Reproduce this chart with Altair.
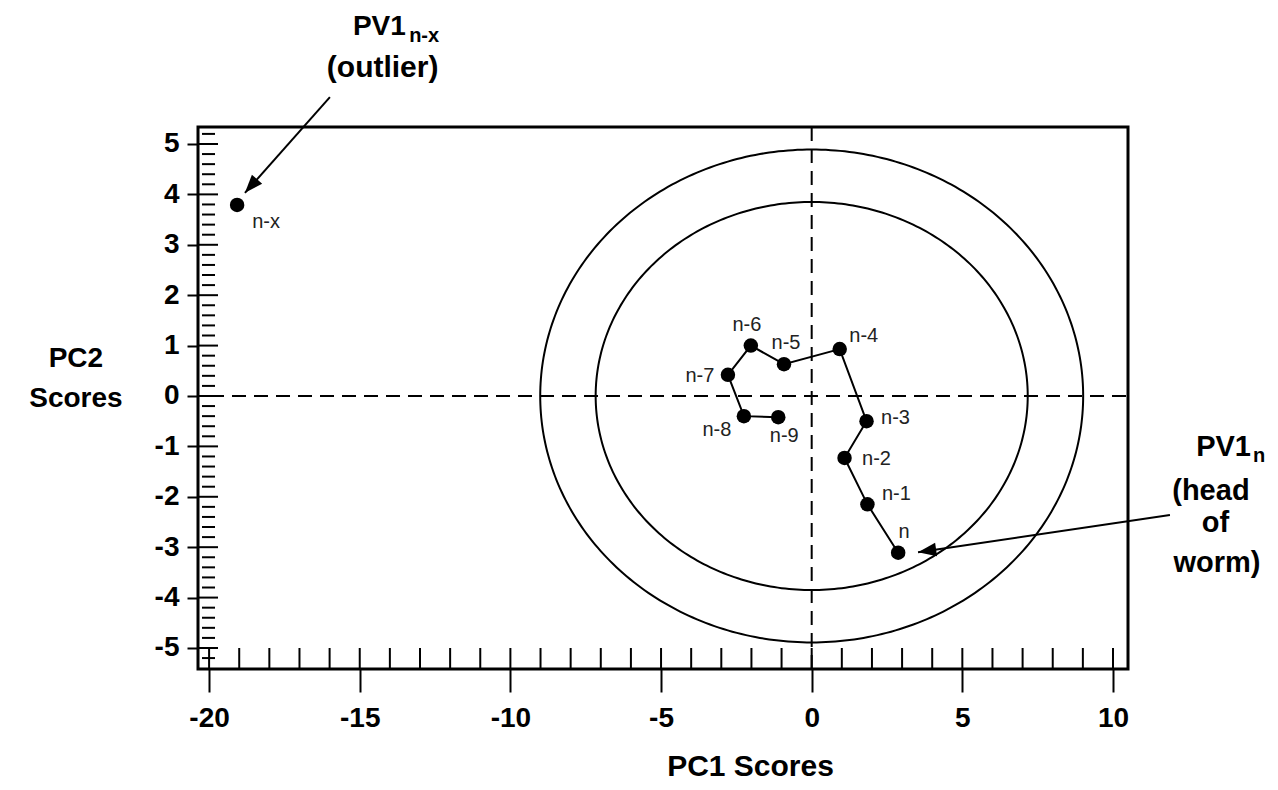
import altair as alt
import pandas as pd
import numpy as np

# ---------------- data ----------------
point_labels = ["n-9", "n-8", "n-7", "n-6", "n-5", "n-4", "n-3", "n-2", "n-1", "n"]
pc1_scores = [-1.11, -2.25, -2.78, -2.02, -0.92, 0.93, 1.82, 1.09, 1.85, 2.87]
pc2_scores = [-0.42, -0.40, 0.42, 1.00, 0.63, 0.93, -0.50, -1.23, -2.15, -3.11]

outlier_label = ["n-x"]
outlier_pc1 = [-19.07]
outlier_pc2 = [3.79]

ellipse_names = ["outer", "inner"]
ellipse_pc1_radius = [9.01, 7.17]
ellipse_pc2_radius = [4.89, 3.85]

x_tick_values = [-20, -15, -10, -5, 0, 5, 10]
y_tick_values = [-5, -4, -3, -2, -1, 0, 1, 2, 3, 4, 5]
x_minor_ticks = list(range(-20, 11))
y_minor_ticks = [round(-5.2 + 0.2 * i, 1) for i in range(53)]
y_minor_ticks = [v for v in y_minor_ticks if abs(v - round(v)) > 1e-9]

# ---------------- styles ----------------
FONT = "Liberation Sans, Arial, sans-serif"
BOLD = 28
W, H = 930, 542
X_DOMAIN = [-20.368, 10.498]
Y_DOMAIN = [-5.417, 5.337]

label_offsets = {  # pixel offsets of point labels (dx, dy)
    "n-9": (6, 19), "n-8": (-27, 14), "n-7": (-28, 1), "n-6": (-4, -21),
    "n-5": (2, -21), "n-4": (24, -13), "n-3": (29, -3), "n-2": (32, 1),
    "n-1": (29, -10), "n": (6, -21), "n-x": (29, 17),
}

xs = alt.Scale(domain=X_DOMAIN, nice=False, zero=False)
ys = alt.Scale(domain=Y_DOMAIN, nice=False, zero=False)

x_axis = alt.Axis(
    values=x_tick_values, tickSize=23, tickWidth=2, tickColor="black",
    domain=False, grid=False, labelExpr="'' + datum.value",
    labelFont=FONT, labelFontSize=BOLD, labelFontWeight="bold", labelColor="black",
    labelPadding=12, labelFlush=False, labelOverlap=False,
    title="PC1 Scores", titleFont=FONT, titleFontSize=30, titleFontWeight="bold",
    titleColor="black", titleAlign="center", titleBaseline="alphabetic",
    titleX=552, titleY=106, titleAnchor="start",
)
y_axis = alt.Axis(
    values=y_tick_values, tickSize=11, tickWidth=2, tickColor="black",
    domain=False, grid=False, labelExpr="'' + datum.value",
    labelFont=FONT, labelFontSize=BOLD, labelFontWeight="bold", labelColor="black",
    labelPadding=8, labelFlush=False, labelOverlap=False, title=None,
)

X = lambda f="x": alt.X(f"{f}:Q", scale=xs, axis=x_axis)
Y = lambda f="y": alt.Y(f"{f}:Q", scale=ys, axis=y_axis)

# ---------------- tables ----------------
worm = pd.DataFrame({"label": point_labels, "x": pc1_scores, "y": pc2_scores,
                     "order": list(range(len(point_labels)))})
outlier = pd.DataFrame({"label": outlier_label, "x": outlier_pc1, "y": outlier_pc2})
points = pd.concat([worm[["label", "x", "y"]], outlier], ignore_index=True)

rows = []
t = np.linspace(0, 2 * np.pi, 361)
for name, a, b in zip(ellipse_names, ellipse_pc1_radius, ellipse_pc2_radius):
    for i, tt in enumerate(t):
        rows.append({"name": name, "x": a * np.cos(tt), "y": b * np.sin(tt), "order": i})
ellipses = pd.DataFrame(rows)

# ---------------- layers ----------------
x_inner = alt.Chart(pd.DataFrame({"x": x_minor_ticks})).mark_rule(
    color="black", strokeWidth=2).encode(x=X(), y=alt.value(H - 21), y2=alt.value(H))
y_major_inner = alt.Chart(pd.DataFrame({"y": y_tick_values})).mark_rule(
    color="black", strokeWidth=2).encode(y=Y(), x=alt.value(0), x2=alt.value(20))
y_minor_inner = alt.Chart(pd.DataFrame({"y": y_minor_ticks})).mark_rule(
    color="black", strokeWidth=2).encode(y=Y(), x=alt.value(4), x2=alt.value(17))

vline = alt.Chart(pd.DataFrame({"x": [0.0]})).mark_rule(
    color="black", strokeWidth=2, strokeDash=[14, 8]).encode(x=X())
hline = alt.Chart(pd.DataFrame({"y": [0.0]})).mark_rule(
    color="black", strokeWidth=2, strokeDash=[14, 8], strokeDashOffset=4).encode(
    y=Y(), x=alt.value(16), x2=alt.value(W))

ell = alt.Chart(ellipses).mark_line(color="black", strokeWidth=2).encode(
    x=X(), y=Y(), detail="name:N", order="order:Q")

path = alt.Chart(worm).mark_line(color="black", strokeWidth=2).encode(
    x=X(), y=Y(), order="order:Q")
dots = alt.Chart(points).mark_circle(size=210, color="black", opacity=1).encode(x=X(), y=Y())

label_layers = []
for lab, (dx, dy) in label_offsets.items():
    label_layers.append(
        alt.Chart(points[points["label"] == lab]).mark_text(
            dx=dx, dy=dy, align="center", baseline="middle", font=FONT,
            fontSize=20, color="#222").encode(x=X(), y=Y(), text="label:N")
    )

# arrows (annotation geometry, in data units)
arrows = pd.DataFrame({
    "x": [-15.99, 11.89], "y": [5.93, -2.36],
    "x2": [-18.81, 3.53], "y2": [4.03, -3.10],
    "angle": [221.5, 261.6],
})
arrow_lines = alt.Chart(arrows).mark_rule(color="black", strokeWidth=2).encode(
    x=X(), y=Y(), x2="x2:Q", y2="y2:Q")
arrow_heads = alt.Chart(arrows).mark_point(
    shape="M0,0L-0.6,1.6L0.6,1.6Z", filled=True, size=520, color="black",
    opacity=1, strokeWidth=0).encode(
    x=X("x2"), y=Y("y2"), angle=alt.Angle("angle:Q", scale=None))


def txt(text, x, y, size=BOLD, align="center", weight="bold"):
    return alt.Chart(pd.DataFrame({"x": [x], "y": [y], "t": [text]})).mark_text(
        align=align, baseline="alphabetic", font=FONT, fontSize=size,
        fontWeight=weight, color="black").encode(x=X(), y=Y(), text="t:N")


annotations = [
    txt("PC2", -24.42, 0.58),
    txt("Scores", -24.42, -0.22),
    txt("PV1", -13.47, 7.16, align="right"),
    txt("n-x", -13.36, 7.02, size=20, align="left"),
    txt("(outlier)", -14.24, 6.33, size=30),
    txt("PV1", 14.58, -1.19, align="right", size=29),
    txt("n", 14.65, -1.30, size=20, align="left"),
    txt("(head", 13.25, -2.06, size=29),
    txt("of", 13.40, -2.69, size=29),
    txt("worm)", 13.45, -3.49, size=29),
]

chart = alt.layer(
    x_inner, y_major_inner, y_minor_inner, vline, hline, ell,
    path, dots, *label_layers, arrow_lines, arrow_heads, *annotations
).properties(
    width=W, height=H,
    autosize=alt.AutoSizeParams(type="none"),
    padding={"left": 190, "top": 119, "right": 142, "bottom": 113},
).configure_view(stroke="black", strokeWidth=3)

chart.save("out.html", embed_options={"renderer": "svg", "actions": False})
